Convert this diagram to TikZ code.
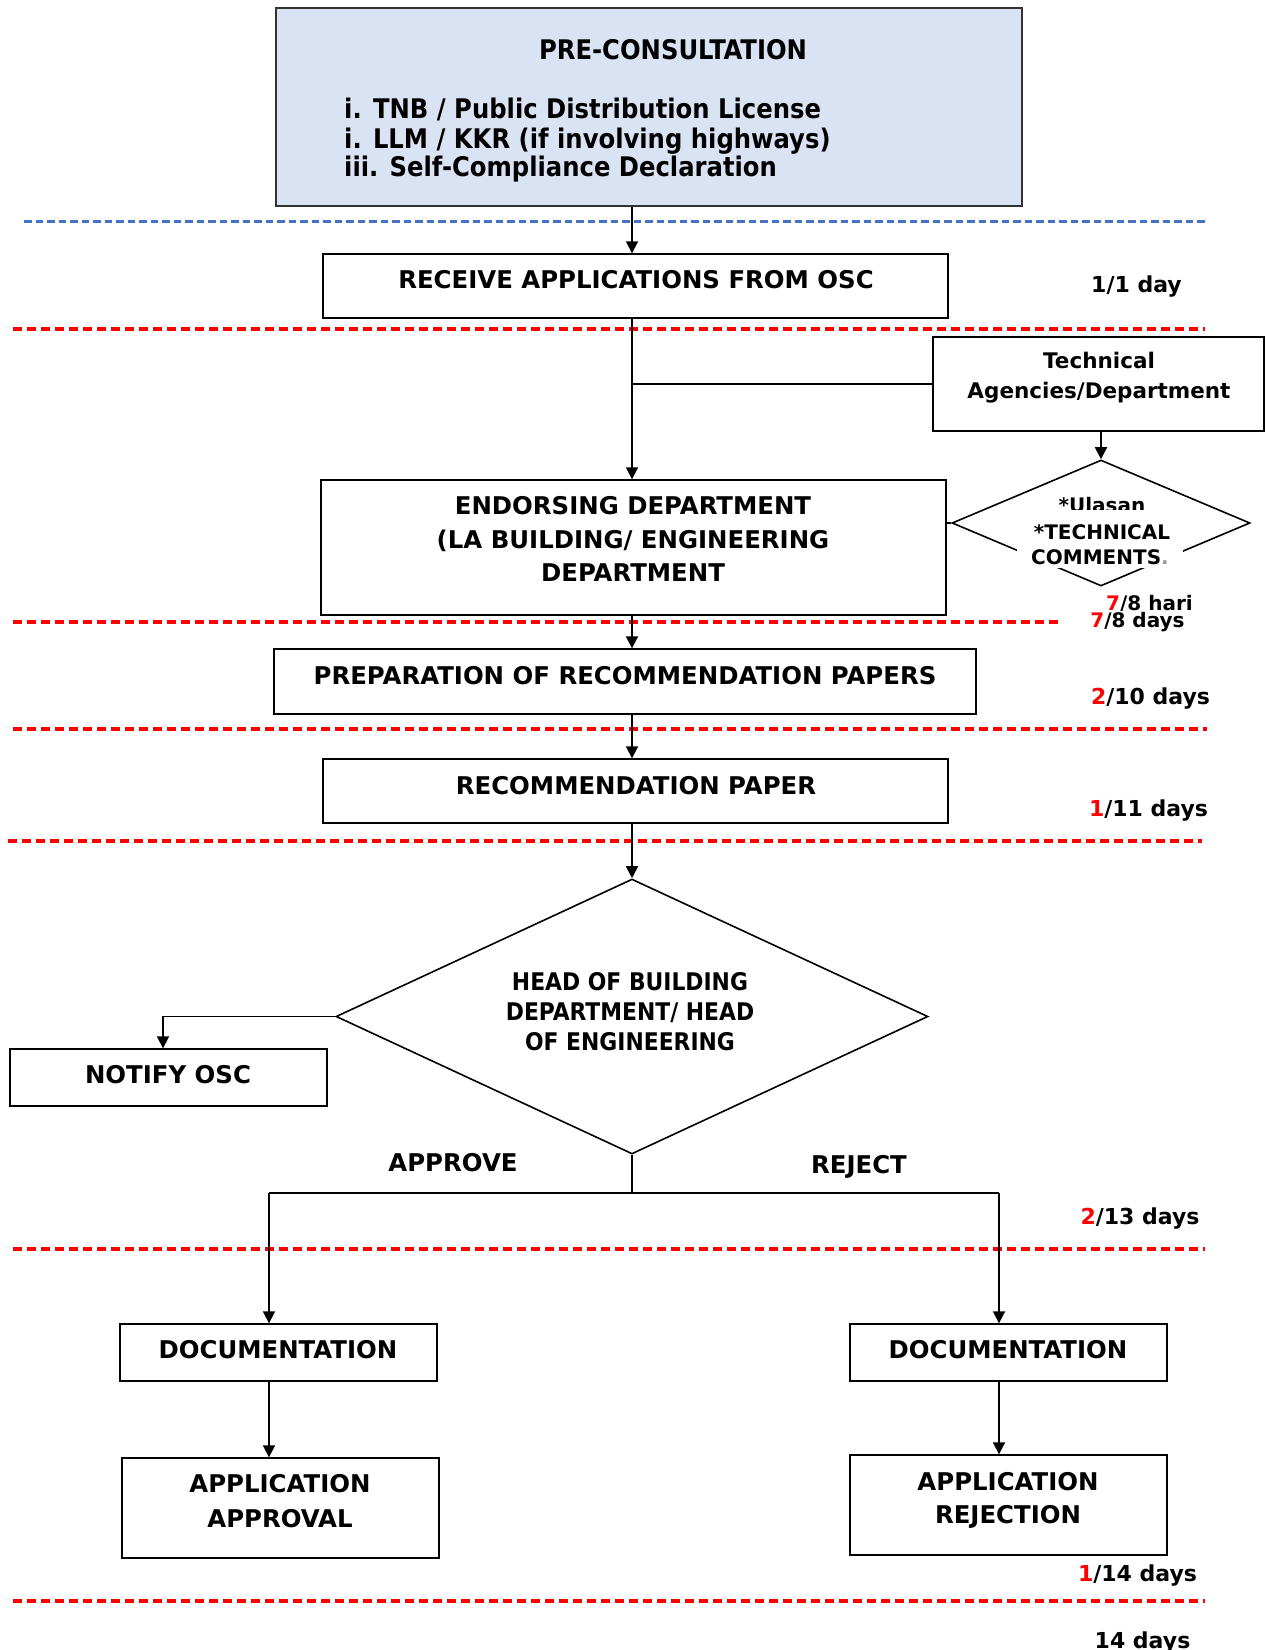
\documentclass[tikz,border=0pt]{standalone}
\usepackage{fontspec}
\setmainfont{DejaVu Sans}
\newfontfamily\condf{DejaVu Sans Condensed}
\usetikzlibrary{arrows.meta,shapes.geometric}
\definecolor{preblue}{RGB}{218,227,243}
\definecolor{dashblue}{RGB}{68,114,196}
\definecolor{dashred}{RGB}{255,0,0}
\newcommand\fmain{\fontsize{24.4}{29}\selectfont\bfseries}
\newcommand\fpre{\condf\fontsize{27}{29}\selectfont\bfseries}
\newcommand\fhead{\condf\fontsize{24.3}{30}\selectfont\bfseries}
\newcommand\fday{\fontsize{22}{26}\selectfont\bfseries}
\newcommand\fsmall{\fontsize{20}{24}\selectfont\bfseries}
\newcommand\ftech{\fontsize{21.5}{30}\selectfont\bfseries}
\newcommand\rd[1]{\textcolor{red}{#1}}
\begin{document}
\begin{tikzpicture}[x=1pt,y=-1pt,
  box/.style={draw=black,line width=1.4pt,inner sep=0pt,rectangle},
  txt/.style={inner sep=0pt,anchor=base},
  arr/.style={line width=1.8pt,-{Triangle[length=12pt,width=12pt]}},
  conn/.style={line width=1.8pt},
  reddash/.style={dashred,line width=3.2pt,dash pattern=on 9pt off 5pt},
  bluedash/.style={dashblue,line width=3pt,dash pattern=on 7.5pt off 4pt},
  dia/.style={draw=black,line width=1.6pt,diamond,inner sep=0pt,shape aspect=1}
]
\useasboundingbox[fill=white] (0,0) rectangle (1266,1650);

% separator lines
\draw[bluedash] (24,221) -- (1205,221);
\draw[reddash] (13,329) -- (1205,329);
\draw[reddash] (13,622) -- (1058,622);
\draw[reddash] (13,729) -- (1207,729);
\draw[reddash] (8,841) -- (1202,841);
\draw[reddash] (13,1249) -- (1205,1249);
\draw[reddash] (13,1601) -- (1205,1601);

% boxes
\node[box,fill=preblue,draw=black!80,minimum width=746pt,minimum height=198pt] (pre) at (649,107) {};
\node[box,minimum width=625pt,minimum height=64pt] (recv) at (635.5,286) {};
\node[box,minimum width=331pt,minimum height=94pt] (tech) at (1098.5,384) {};
\node[box,minimum width=625pt,minimum height=135pt] (endo) at (633.5,547.5) {};
\node[box,minimum width=702pt,minimum height=65pt] (prep) at (625,681.5) {};
\node[box,minimum width=625pt,minimum height=64pt] (rec) at (635.5,791) {};
\node[box,minimum width=317pt,minimum height=57pt] (notify) at (168.5,1077.5) {};
\node[box,minimum width=317pt,minimum height=57pt] (docL) at (278.5,1352.5) {};
\node[box,minimum width=317pt,minimum height=57pt] (docR) at (1008.5,1352.5) {};
\node[box,minimum width=317pt,minimum height=100pt] (appr) at (280.5,1508) {};
\node[box,minimum width=317pt,minimum height=100pt] (rej) at (1008.5,1505) {};

% diamonds
\node[dia,minimum width=298pt,minimum height=126pt] (sdia) at (1101,523) {};
\node[dia,minimum width=592pt,minimum height=275pt] (bdia) at (632,1016.5) {};

% texts in pre box
\node[txt] (preT) at (673,59) {\fpre PRE-CONSULTATION};
\node[txt,anchor=base west] (pre1) at (344,118) {\fpre i. TNB / Public Distribution License};
\node[txt,anchor=base west] (pre2) at (344,148) {\fpre i. LLM / KKR (if involving highways)};
\node[txt,anchor=base west] (pre3) at (344,176) {\fpre iii. Self-Compliance Declaration};

% box texts
\node[txt] (recvT) at (636,288) {\fmain RECEIVE APPLICATIONS FROM OSC};
\node[txt] (techT1) at (1099,368) {\ftech Technical};
\node[txt] (techT2) at (1099,398) {\ftech Agencies/Department};
\node[txt] (endoT1) at (633,514) {\fmain ENDORSING DEPARTMENT};
\node[txt] (endoT2) at (633,548) {\fmain (LA BUILDING/ ENGINEERING};
\node[txt] (endoT3) at (633,581) {\fmain DEPARTMENT};
\node[txt] (prepT) at (625,684) {\fmain PREPARATION OF RECOMMENDATION PAPERS};
\node[txt] (recT) at (636,794) {\fmain RECOMMENDATION PAPER};
\node[txt] (bd1) at (630,990) {\fhead HEAD OF BUILDING};
\node[txt] (bd2) at (630,1020) {\fhead DEPARTMENT/ HEAD};
\node[txt] (bd3) at (630,1050) {\fhead OF ENGINEERING};
\node[txt] (notT) at (168,1083) {\fmain NOTIFY OSC};
\node[txt] (appL) at (453,1171) {\fmain APPROVE};
\node[txt] (rejL) at (859,1173) {\fmain REJECT};
\node[txt] (docLT) at (278,1358) {\fmain DOCUMENTATION};
\node[txt] (docRT) at (1008,1358) {\fmain DOCUMENTATION};
\node[txt] (apT1) at (280,1492) {\fmain APPLICATION};
\node[txt] (apT2) at (280,1527) {\fmain APPROVAL};
\node[txt] (rjT1) at (1008,1490) {\fmain APPLICATION};
\node[txt] (rjT2) at (1008,1523) {\fmain REJECTION};

% small diamond texts (partly hidden)
\node[txt] (ulasan) at (1102,512) {\fsmall *Ulasan};
\fill[white] (1017,510) rectangle (1183,568);
\node[txt] (tc1) at (1102,539) {\fsmall *TECHNICAL};
\node[txt] (tc2) at (1100,564) {\fsmall COMMENTS\textcolor{black!40}{.}};

% day labels
\node[txt] (d1) at (1136.5,292) {\fday 1/1 day};
\node[txt] (d78h) at (1149.5,610) {\fsmall \rd{7}/8 hari};
\node[txt,fill=white,inner sep=1pt] (d78) at (1137.5,627) {\fsmall \rd{7}/8 days};
\node[txt] (d210) at (1150.5,704) {\fday \rd{2}/10 days};
\node[txt] (d111) at (1148.5,816) {\fday \rd{1}/11 days};
\node[txt] (d213) at (1140,1224) {\fday \rd{2}/13 days};
\node[txt] (d114) at (1137.5,1581) {\fday \rd{1}/14 days};
\node[txt] (d14) at (1142.5,1648) {\fday 14 days};

% connectors
\coordinate (sx) at (632,0);
\draw[arr] (sx |- pre.south) -- (sx |- recv.north);
\draw[arr] (sx |- recv.south) -- (sx |- endo.north);
\draw[conn] (tech.west) -- (sx |- tech.west);
\draw[arr] (sdia.north |- tech.south) -- (sdia.north);
\draw[conn] (endo.east |- sdia.west) -- (sdia.west);
\draw[arr] (sx |- endo.south) -- (sx |- prep.north);
\draw[arr] (sx |- prep.south) -- (sx |- rec.north);
\draw[arr] (sx |- rec.south) -- (bdia.north);
\coordinate (nx) at (163,0);
\draw[arr] (bdia.west) -| (nx |- notify.north);
\coordinate (j) at (632,1193);
\coordinate (jl) at (269,1193);
\coordinate (jr) at (999,1193);
\draw[conn] (bdia.south) -- (j);
\draw[conn] (jl) -- (jr);
\draw[arr] (jl) -- (jl |- docL.north);
\draw[arr] (jr) -- (jr |- docR.north);
\draw[arr] (jl |- docL.south) -- (jl |- appr.north);
\draw[arr] (jr |- docR.south) -- (jr |- rej.north);
\end{tikzpicture}
\end{document}
